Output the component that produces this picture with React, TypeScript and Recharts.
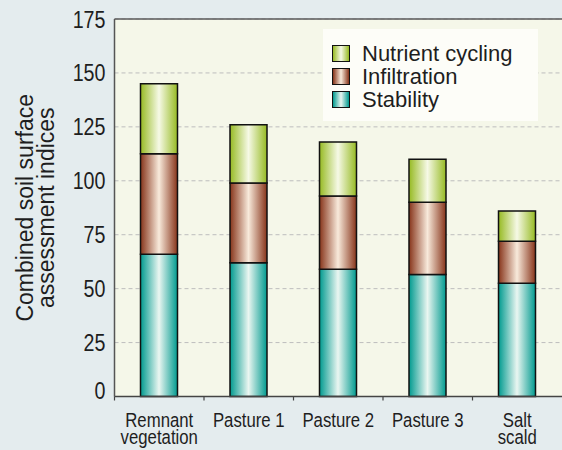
import { BarChart, Bar, XAxis, YAxis, CartesianGrid, Legend, ReferenceLine, Label } from "recharts";

const sites = ["Remnant vegetation", "Pasture 1", "Pasture 2", "Pasture 3", "Salt scald"];
const siteLabelLines = [["Remnant", "vegetation"], ["Pasture 1"], ["Pasture 2"], ["Pasture 3"], ["Salt", "scald"]];
const stability = [66, 62, 59, 56.5, 52.5];
const infiltration = [46.5, 37, 34, 33.5, 19.5];
const nutrientCycling = [32.5, 27, 25, 20, 14];
const yTicks = [0, 25, 50, 75, 100, 125, 150, 175];

const chartData = sites.map((site, i) => ({
  site,
  stability: stability[i],
  infiltration: infiltration[i],
  nutrient: nutrientCycling[i],
}));

// bottom to top
const series = [
  { key: "stability", name: "Stability", edge: "#009a8f", mid: "#eaf6f1", id: "gStab" },
  { key: "infiltration", name: "Infiltration", edge: "#87341a", mid: "#f8eadb", id: "gInf" },
  { key: "nutrient", name: "Nutrient cycling", edge: "#96ba22", mid: "#f6f9e6", id: "gNut" },
];

const textFont = "'Liberation Sans', Arial, sans-serif";
const ink = "#1e1e1e";

// no condensed face installed, so squeeze the regular one around its anchor
function NarrowText(props: any) {
  const { x, y, size, anchor, squeeze, lines, lineGap } = props;
  return (
    <text
      transform={`translate(${x} ${y}) scale(${squeeze} 1)`}
      x={0}
      y={0}
      textAnchor={anchor}
      fontFamily={textFont}
      fontSize={size}
      fill={ink}
    >
      {lines.map((t: string, i: number) => (
        <tspan key={t} x={0} dy={i === 0 ? 0 : lineGap}>
          {t}
        </tspan>
      ))}
    </text>
  );
}

function YTick(props: any) {
  const { x, y, payload } = props;
  const v = payload.value;
  return <NarrowText x={x} y={y + (v === 0 ? 2 : 8.5)} size={24} anchor="end" squeeze={0.82} lines={[String(v)]} />;
}

function XTick(props: any) {
  const { x, y, payload } = props;
  const half = payload.offset || 44.75;
  const lines = siteLabelLines[payload.index] ?? [String(payload.value)];
  return (
    <g>
      <line x1={x - half} x2={x - half} y1={y} y2={y + 4} stroke="#444" strokeWidth={1.2} />
      <NarrowText x={x} y={y + 30} size={19.5} anchor="middle" squeeze={0.86} lines={lines} lineGap={18} />
    </g>
  );
}

function YTitle(props: any) {
  const vb = props.viewBox || { y: 19, height: 377.5 };
  const cy = vb.y + vb.height / 2;
  const rows = [
    { t: "Combined soil surface", x: 33 },
    { t: "assessment indices", x: 54 },
  ];
  return (
    <g>
      {rows.map((r) => (
        <text
          key={r.t}
          x={r.x}
          y={cy}
          transform={`rotate(-90 ${r.x} ${cy})`}
          textAnchor="middle"
          fontFamily={textFont}
          fontSize={23}
          fill={ink}
        >
          {r.t}
        </text>
      ))}
    </g>
  );
}

function LegendBox() {
  const items = [...series].reverse();
  return (
    <div style={{ background: "#fdfdf8", width: 215, height: 92, boxSizing: "border-box", padding: "13px 0 0 9px" }}>
      {items.map((s) => (
        <div key={s.key} style={{ display: "flex", alignItems: "center", height: 23 }}>
          <div
            style={{
              width: 18,
              height: 17,
              boxSizing: "border-box",
              border: "1.5px solid #111",
              background: `linear-gradient(to right, ${s.edge} 0%, ${s.mid} 50%, ${s.edge} 100%)`,
            }}
          />
          <span style={{ marginLeft: 12, fontFamily: textFont, fontSize: 22, color: ink, lineHeight: "23px" }}>{s.name}</span>
        </div>
      ))}
    </div>
  );
}

export default function App() {
  return (
    <div style={{ position: "absolute", left: 0, top: 0, width: 562, height: 450, background: "#e4ecee" }}>
      <BarChart width={562} height={450} data={chartData} margin={{ top: 19, right: 0, bottom: 0, left: 0 }} barSize={37}>
        <defs>
          {series.map((s) => (
            <linearGradient key={s.id} id={s.id} x1="0" y1="0" x2="1" y2="0">
              <stop offset="0%" stopColor={s.edge} />
              <stop offset="50%" stopColor={s.mid} />
              <stop offset="100%" stopColor={s.edge} />
            </linearGradient>
          ))}
        </defs>
        <CartesianGrid vertical={false} fill="#f5f7e9" fillOpacity={1} stroke="#bdbdbd" strokeDasharray="4 3" />
        <XAxis
          dataKey="site"
          height={53.5}
          interval={0}
          tickLine={false}
          tickSize={0}
          tickMargin={0}
          axisLine={{ stroke: "#444", strokeWidth: 1.5 }}
          tick={<XTick />}
        />
        <YAxis
          width={114.5}
          domain={[0, 175]}
          ticks={yTicks}
          interval={0}
          tickLine={false}
          tickSize={0}
          tickMargin={9}
          axisLine={{ stroke: "#555", strokeWidth: 1.5 }}
          tick={<YTick />}
        >
          <Label content={<YTitle />} />
        </YAxis>
        <ReferenceLine y={175} stroke="#5a5a5a" strokeWidth={1.5} />
        <Legend
          layout="horizontal"
          verticalAlign="middle"
          align="center"
          wrapperStyle={{ left: 323, top: 29, width: 215, height: 92 }}
          content={<LegendBox />}
        />
        {series.map((s) => (
          <Bar
            key={s.key}
            dataKey={s.key}
            name={s.name}
            stackId="a"
            fill={`url(#${s.id})`}
            stroke="#111"
            strokeWidth={1.5}
            isAnimationActive={false}
          />
        ))}
      </BarChart>
    </div>
  );
}
